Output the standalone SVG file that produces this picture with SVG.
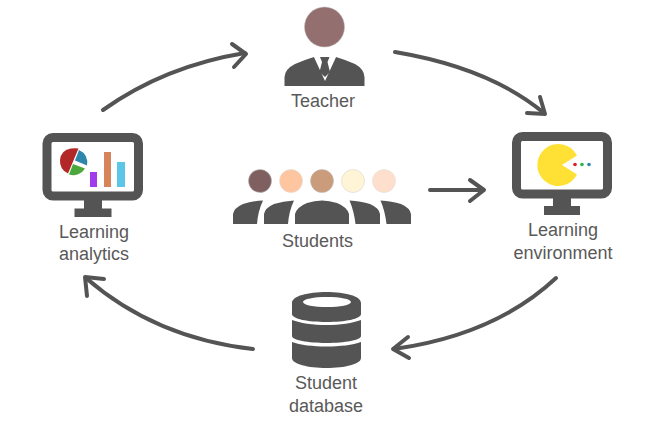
<svg xmlns="http://www.w3.org/2000/svg" width="672" height="441" viewBox="0 0 672 441">
<style>
.d{fill:#545454}
.t{font-family:"Liberation Sans",Arial,sans-serif;font-size:18px;fill:#595959;text-anchor:middle}
.c{fill:none;stroke:#545454;stroke-width:4;stroke-linecap:round;stroke-linejoin:round}
</style>
<rect width="672" height="441" fill="#fff"/>
<g id="connectors">
<path class="c" d="M103 110Q165 66 245 53"/><path class="c" d="M232 44L246 54L234 67"/>
<path class="c" d="M395 52Q490 68 544 113"/><path class="c" d="M540 97L545 114L527 113"/>
<path class="c" d="M556 278Q495 335 394 349"/><path class="c" d="M408 337L393 349L409 358"/>
<path class="c" d="M253 349Q155 338 86 278"/><path class="c" d="M87 296L85 277L104 279"/>
<path class="c" d="M430 190H483"/><path class="c" d="M470 180L484 190L470 201"/>
</g>
<g id="teacher">
<circle cx="324.500" cy="27" r="20" fill="#946f6f" stroke="#bbb" stroke-width=".5"/>
<path class="d" d="M284.500 86V77Q285 69 295 64Q304 60 314 57H336Q346 60 355 64Q364 69 364.500 77V86Z"/>
<path fill="#fff" d="M313 55H337L325 81Z"/>
<path class="d" d="M320 57H329.500L327.500 62L330 72L325 77L319.500 72L322 62Z"/>
<text class="t" x="323" y="107">Teacher</text>
</g>
<g id="learning-analytics">
<rect x="47" y="137.500" width="91.500" height="58.500" rx="6" fill="#fff" stroke="#545454" stroke-width="9"/>
<rect class="d" x="84" y="200" width="18" height="9"/><rect class="d" x="74.500" y="208.500" width="37" height="8.500"/>
<path fill="#b22727" d="M78.500 148.500L68 173.500A14 14 0 0 1 60 160Q61 150 71 148.500Q75 148 78.500 148.500Z"/>
<path fill="#2f86ac" d="M79 150A13.500 13.500 0 0 1 87 165.500L75 160.500Z"/>
<path fill="#4ca83c" d="M73 164L85 168.500A13.500 13.500 0 0 1 69 174.500Z"/>
<rect x="90" y="172" width="7" height="15" fill="#a03cec"/>
<rect x="104" y="152" width="7" height="35" fill="#d8845a"/>
<rect x="117" y="162" width="8" height="25" fill="#5cc6e8"/>
<text class="t" x="94" y="238">Learning</text>
<text class="t" x="94" y="260">analytics</text>
</g>
<g id="learning-environment">
<rect x="516.500" y="136.500" width="91" height="57.500" rx="6" fill="#fff" stroke="#545454" stroke-width="9"/>
<rect class="d" x="553" y="198" width="18" height="9"/><rect class="d" x="544" y="206" width="36" height="9"/>
<path fill="#ffe135" d="M577 155.500A21 21 0 1 0 577 174.500L562 165Z"/>
<circle cx="575" cy="164.500" r="1.800" fill="#d91f26"/>
<circle cx="582" cy="164.500" r="1.800" fill="#2cb34a"/>
<circle cx="589" cy="164.500" r="1.800" fill="#2f86ac"/>
<text class="t" x="563" y="236">Learning</text>
<text class="t" x="563" y="259">environment</text>
</g>
<g id="students">
<circle cx="260" cy="181" r="11.500" fill="#7f5f5f" stroke="#bbb" stroke-width=".5"/>
<circle cx="291" cy="181" r="11.500" fill="#fdc6a0" stroke="#ddd" stroke-width=".5"/>
<circle cx="322" cy="181" r="11.500" fill="#cb9c7c" stroke="#bbb" stroke-width=".5"/>
<circle cx="353" cy="181" r="11.500" fill="#fff5d6" stroke="#ccc" stroke-width=".5"/>
<circle cx="384" cy="181" r="11.500" fill="#fedfce" stroke="#ddd" stroke-width=".5"/>
<path class="d" d="M233 224V214Q234 208 243 204Q252 201 263 200.500Q258 211 257 224Z"/>
<path class="d" d="M264 224V214Q265 208 274 204Q283 201 294 200.500Q289 211 288 224Z"/>
<path class="d" d="M295 224V214Q297 207 307 203Q322 198 337 203Q347 207 349 214V224Z"/>
<path class="d" d="M355.500 224Q354 211 349.500 200.500Q361 201 370 204Q379 208 380 214V224Z"/>
<path class="d" d="M386.500 224Q385 211 380.500 200.500Q392 201 401 204Q410 208 411 214V224Z"/>
<text class="t" x="317.500" y="247">Students</text>
</g>
<g id="student-database">
<path class="d" fill-rule="evenodd" d="M292 303C292 296 308 292 326.500 292S361 296 361 303V314C361 319 345 322 326.500 322S292 319 292 314ZM327 297C314 297 303 299 303 302S314 307 327 307S351 305 351 302S340 297 327 297Z"/>
<path class="d" d="M292 320C300 323 313 325 326.500 325S353 323 361 320V336C361 340 345 343 326.500 343S292 340 292 336Z"/>
<path class="d" d="M292 342C300 345 313 346.500 326.500 346.500S353 345 361 342V358C361 364 345 368 326.500 368S292 364 292 358Z"/>
<text class="t" x="326" y="389">Student</text>
<text class="t" x="326" y="412">database</text>
</g>
</svg>
